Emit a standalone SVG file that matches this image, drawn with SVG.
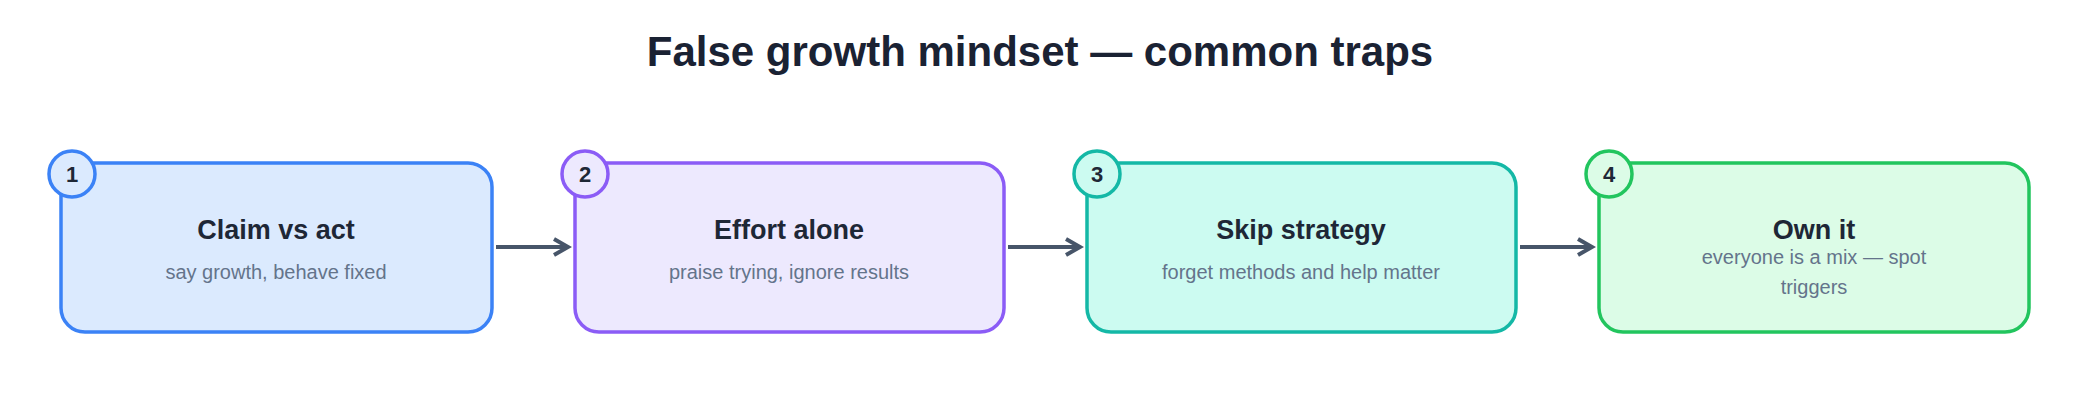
<svg xmlns="http://www.w3.org/2000/svg" width="2080" height="420" viewBox="0 0 2080 420">
<style>
text{font-family:"Liberation Sans",Arial,sans-serif;text-anchor:middle}
.t{font-size:42px;font-weight:bold;fill:#1a2233}
.h{font-size:27px;font-weight:bold;fill:#1e2736}
.s{font-size:20px;fill:#64748b}
.n{font-size:22px;font-weight:bold;fill:#1e2736}
.box{stroke-width:3.5}
.c{stroke:#475569;stroke-width:4;fill:none}
</style>
<defs><marker id="a" viewBox="0 0 10 10" refX="8" refY="5" markerWidth="5" markerHeight="5" orient="auto"><path d="M1,1 L8,5 L1,9" fill="none" stroke="#475569" stroke-width="2"/></marker></defs>
<rect width="2080" height="420" fill="#fff"/>
<text class="t" x="1040" y="66">False growth mindset — common traps</text>
<g id="connectors">
<line class="c" x1="496" y1="247" x2="568" y2="247" marker-end="url(#a)"/>
<line class="c" x1="1008" y1="247" x2="1080" y2="247" marker-end="url(#a)"/>
<line class="c" x1="1520" y1="247" x2="1592" y2="247" marker-end="url(#a)"/>
</g>
<g id="n1"><rect class="box" x="61" y="163" width="431" height="169" rx="24" fill="#dbeafe" stroke="#3b82f6"/><circle cx="72" cy="174" r="23" fill="#dbeafe" stroke="#3b82f6" stroke-width="3.5"/><text class="n" x="72" y="182">1</text><text class="h" x="276" y="239">Claim vs act</text><text class="s" x="276" y="279">say growth, behave fixed</text></g>
<g id="n2"><rect class="box" x="575" y="163" width="429" height="169" rx="24" fill="#ede9fe" stroke="#8b5cf6"/><circle cx="585" cy="174" r="23" fill="#ede9fe" stroke="#8b5cf6" stroke-width="3.5"/><text class="n" x="585" y="182">2</text><text class="h" x="789" y="239">Effort alone</text><text class="s" x="789" y="279">praise trying, ignore results</text></g>
<g id="n3"><rect class="box" x="1087" y="163" width="429" height="169" rx="24" fill="#ccfbf1" stroke="#14b8a6"/><circle cx="1097" cy="174" r="23" fill="#ccfbf1" stroke="#14b8a6" stroke-width="3.5"/><text class="n" x="1097" y="182">3</text><text class="h" x="1301" y="239">Skip strategy</text><text class="s" x="1301" y="279">forget methods and help matter</text></g>
<g id="n4"><rect class="box" x="1599" y="163" width="430" height="169" rx="24" fill="#dcfce7" stroke="#22c55e"/><circle cx="1609" cy="174" r="23" fill="#dcfce7" stroke="#22c55e" stroke-width="3.5"/><text class="n" x="1609" y="182">4</text><text class="h" x="1814" y="239">Own it</text><text class="s" x="1814" y="264">everyone is a mix — spot</text><text class="s" x="1814" y="294">triggers</text></g>
</svg>
